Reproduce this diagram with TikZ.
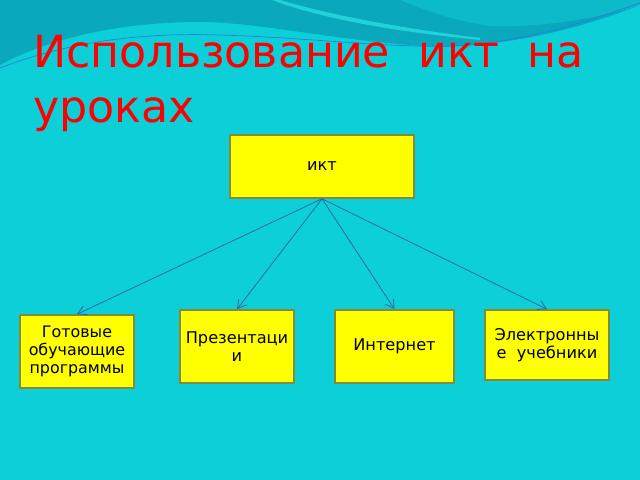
\documentclass[tikz,border=0pt]{standalone}
\usepackage{fontspec}
\setmainfont{DejaVu Sans}
\usetikzlibrary{arrows.meta}
\definecolor{slidebg}{RGB}{13,207,216}
\definecolor{wavedark}{RGB}{10,168,189}
\definecolor{wavemid}{RGB}{12,186,202}
\definecolor{waveline}{RGB}{45,125,215}
\definecolor{boxedge}{RGB}{128,140,60}
\definecolor{boxfill}{RGB}{255,255,0}
\definecolor{arrowblue}{RGB}{35,110,175}

\begin{document}
\begin{tikzpicture}[x=0.025cm,y=0.025cm]
\tikzstyle{box}=[draw=boxedge,line width=1.1pt,fill=boxfill,align=center,inner sep=2pt,font=\fontsize{11.5}{12.8}\selectfont]
\tikzstyle{link}=[draw=arrowblue,line width=0.6pt,-{Straight Barb[length=6pt,width=7pt]}]
\useasboundingbox (0,0) rectangle (640,-480);
% background and waves
\fill [slidebg] (0,0) rectangle (640,-480);
\fill [wavedark] (0,0) -- (640,0) -- (640,-5) .. controls (590,-25) and (520,-45) .. (440,-47) .. controls (340,-42) and (260,-22) .. (200,-22) .. controls (120,-22) and (50,-38) .. (0,-65) -- cycle;
\fill [wavemid] (400,0) -- (640,0) -- (640,-5) .. controls (600,-18) and (540,-28) .. (490,-26) .. controls (450,-20) and (425,-10) .. (400,0) -- cycle;
\fill [slidebg!92!white] (280,0) .. controls (330,-15) and (400,-28) .. (480,-38) -- (480,-40) .. controls (400,-32) and (325,-20) .. (272,0) -- cycle;
\draw [waveline,line width=0.5pt] (0,-68) .. controls (60,-45) and (130,-32) .. (220,-35) .. controls (320,-38) and (400,-50) .. (470,-45) .. controls (540,-38) and (590,-20) .. (640,-3);
% title
\node [anchor=north west,inner sep=0pt,align=left,text=red,font=\fontsize{31.5}{39}\selectfont] (title) at (33,-35) {Использование\ \ икт\ \ на\\уроках};
% boxes
\node [box,minimum width=4.6cm,minimum height=1.575cm] (ikt) at (322,-166.5) {икт};
\node [box,minimum width=2.85cm,minimum height=1.825cm,font=\fontsize{11.3}{12.8}\selectfont] (prog) at (77,-351.5) {Готовые\\обучающие\\программы};
\node [box,minimum width=2.85cm,minimum height=1.825cm] (prez) at (237,-346.5) {Презентаци\\и};
\node [box,minimum width=2.975cm,minimum height=1.825cm] (inet) at (394.5,-346.5) {Интернет};
\node [box,minimum width=3.1cm,minimum height=1.75cm] (ebook) at (547,-345) {Электронны\\е\ \ учебники};
% links
\draw [link] (ikt.south) -- (prog.north);
\draw [link] (ikt.south) -- (prez.north);
\draw [link] (ikt.south) -- (inet.north);
\draw [link] (ikt.south) -- (ebook.north);
\end{tikzpicture}
\end{document}
